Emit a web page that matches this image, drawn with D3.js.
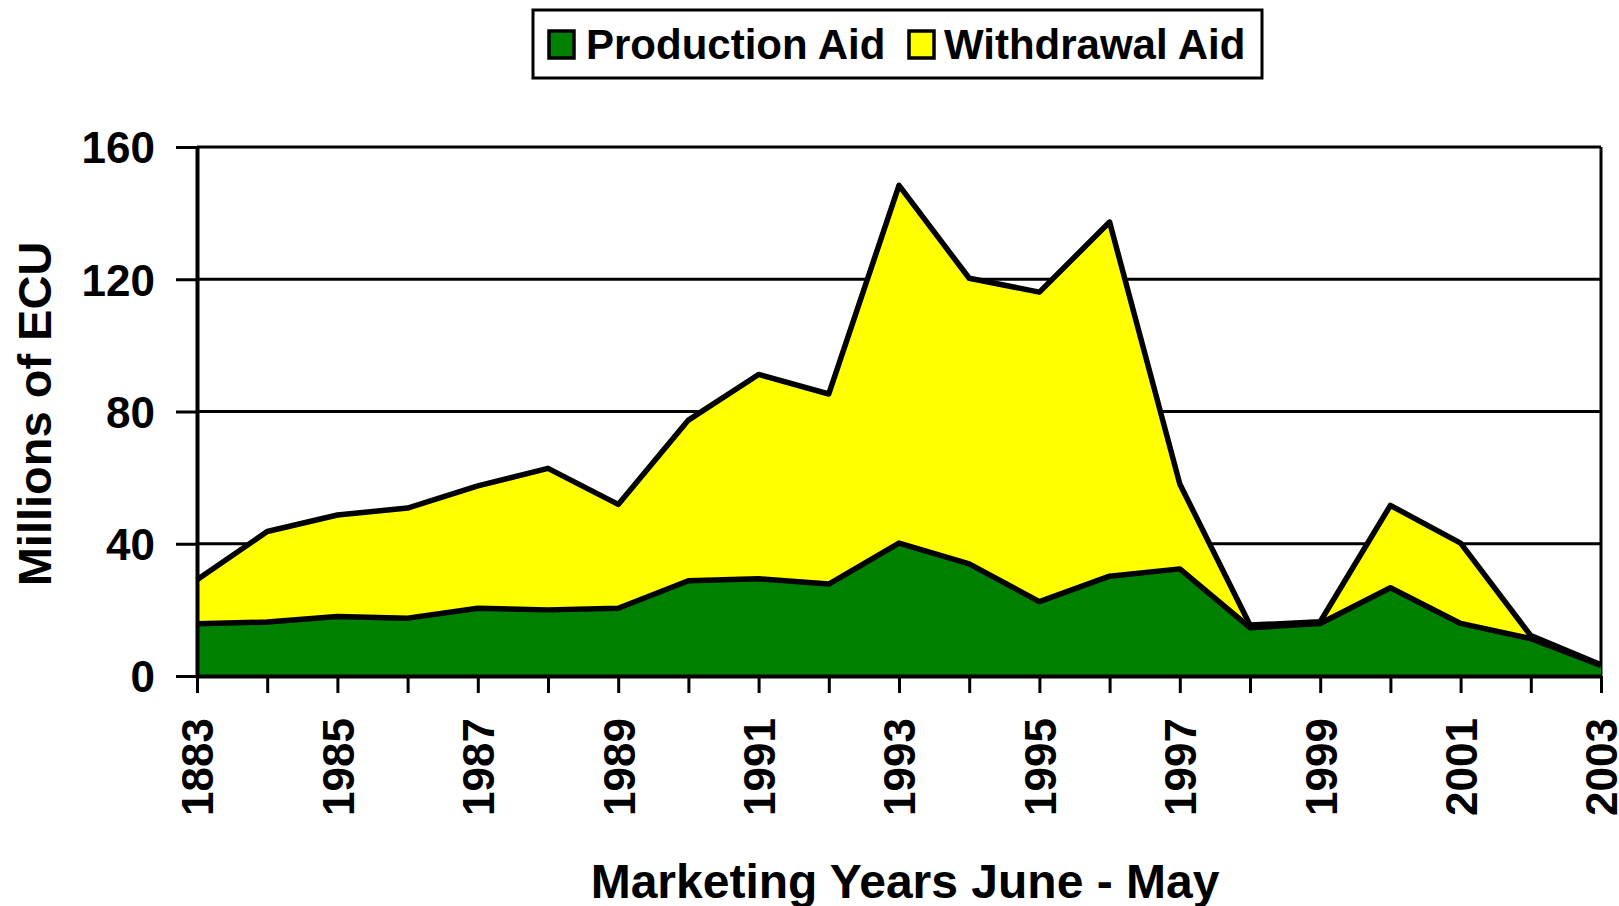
<!DOCTYPE html>
<html>
<head>
<meta charset="utf-8">
<script src="https://cdn.jsdelivr.net/npm/d3@7"></script>
<style>
	body { margin: 0; background: #fff; }
	text { font-family: "Liberation Sans", Arial, sans-serif; font-weight: bold; fill: #000; }
</style>
</head>
<body>
<svg id="chart" width="1619" height="906"></svg>
<script>
// marketing years (first label is spelt this way in the original)
var years = ['1883', '1984', '1985', '1986', '1987', '1988', '1989', '1990', '1991', '1992', '1993',
	'1994', '1995', '1996', '1997', '1998', '1999', '2000', '2001', '2002', '2003'];
// millions of ECU
var productionAid = [15.8, 16.3, 18.0, 17.5, 20.5, 20.0, 20.5, 28.8, 29.4, 27.8, 40.2,
	33.9, 22.5, 30.2, 32.4, 14.6, 15.9, 26.7, 15.9, 11.3, 3.2];
var withdrawalAid = [13.3, 27.4, 30.7, 33.3, 37.0, 42.8, 31.4, 48.6, 61.8, 57.5, 108.2,
	86.4, 93.6, 107.1, 25.7, 0.8, 0.5, 24.9, 24.3, 0.9, 0.2];
var yTicks = [0, 40, 80, 120, 160];
var seriesNames = ['Production Aid', 'Withdrawal Aid'];
var seriesColors = ['#008000', '#ffff00'];

var svg = d3.select('#chart');
var plot = {left: 197, right: 1601, top: 147, bottom: 676};

var x = d3.scalePoint().domain(years).range([plot.left, plot.right]);
var y = d3.scaleLinear().domain([0, 160]).range([plot.bottom, plot.top]);

var rows = years.map(function(d, i){
	return {year: d, production: productionAid[i], withdrawal: withdrawalAid[i]};
});
var stacked = d3.stack().keys(['production', 'withdrawal'])(rows);

addGrid = function(){
	svg.append('g')
		.attr('id', 'gridG')
		.selectAll('line')
		.data(yTicks.slice(1))
		.enter()
		.append('line')
		.attr('x1', plot.left)
		.attr('x2', plot.right)
		.attr('y1', function(d){ return y(d); })
		.attr('y2', function(d){ return y(d); })
		.attr('stroke', '#000')
		.attr('stroke-width', 3);
	svg.append('line')
		.attr('x1', plot.right)
		.attr('x2', plot.right)
		.attr('y1', plot.top)
		.attr('y2', plot.bottom)
		.attr('stroke', '#000')
		.attr('stroke-width', 3);
};

addAreas = function(){
	var area = d3.area()
		.x(function(d){ return x(d.data.year); })
		.y0(function(d){ return y(d[0]); })
		.y1(function(d){ return y(d[1]); });
	var topLine = d3.line()
		.x(function(d){ return x(d.data.year); })
		.y(function(d){ return y(d[1]); });
	svg.append('g')
		.attr('id', 'areaG')
		.selectAll('path')
		.data(stacked)
		.enter()
		.append('path')
		.attr('fill', function(d, i){ return seriesColors[i]; })
		.attr('d', area);
	svg.append('g')
		.attr('id', 'lineG')
		.selectAll('path')
		.data(stacked.slice().reverse())
		.enter()
		.append('path')
		.attr('fill', 'none')
		.attr('stroke', '#000')
		.attr('stroke-width', 5.5)
		.attr('stroke-linejoin', 'round')
		.attr('d', topLine);
};

addAxes = function(){
	var yAxis = svg.append('g')
		.attr('transform', 'translate(' + plot.left + ',0)')
		.call(d3.axisLeft(y).tickValues(yTicks).tickSize(21).tickSizeOuter(0).tickPadding(21));
	yAxis.select('.domain').attr('stroke-width', 4);
	yAxis.selectAll('.tick line').attr('stroke-width', 3);
	yAxis.selectAll('.tick text')
		.attr('dy', '0.36em')
		.style('font-size', '44px');

	var xAxis = svg.append('g')
		.attr('transform', 'translate(0,' + plot.bottom + ')')
		.call(d3.axisBottom(x)
			.tickSize(17)
			.tickSizeOuter(0)
			.tickFormat(function(d, i){ return i % 2 == 0 ? d : ''; }));
	xAxis.select('.domain').attr('stroke-width', 4);
	xAxis.selectAll('.tick line').attr('stroke-width', 3);
	xAxis.selectAll('.tick text')
		.attr('transform', 'rotate(-90)')
		.attr('x', -42)
		.attr('y', 0)
		.attr('dy', '0.36em')
		.style('text-anchor', 'end')
		.style('font-size', '44px');
	svg.selectAll('.domain').attr('stroke', '#000');
};

addTitles = function(){
	svg.append('text')
		.attr('x', 905)
		.attr('y', 898)
		.attr('text-anchor', 'middle')
		.style('font-size', '48px')
		.text('Marketing Years June - May');
	svg.append('text')
		.attr('transform', 'translate(51,414) rotate(-90)')
		.attr('text-anchor', 'middle')
		.style('font-size', '47px')
		.text('Millions of ECU');
};

addLegend = function(){
	var lg = svg.append('g').attr('id', 'legendG');
	lg.append('rect')
		.attr('x', 533)
		.attr('y', 10)
		.attr('width', 729)
		.attr('height', 68)
		.attr('fill', '#fff')
		.attr('stroke', '#000')
		.attr('stroke-width', 3);
	var swatchX = [549, 909];
	var labelX = [586, 944];
	seriesNames.forEach(function(name, i){
		lg.append('rect')
			.attr('x', swatchX[i])
			.attr('y', 31)
			.attr('width', 25)
			.attr('height', 27)
			.attr('fill', seriesColors[i])
			.attr('stroke', '#000')
			.attr('stroke-width', 3.5);
		lg.append('text')
			.attr('x', labelX[i])
			.attr('y', 59)
			.style('font-size', '42px')
			.text(name);
	});
};

addGrid();
addAreas();
addAxes();
addTitles();
addLegend();
</script>
</body>
</html>
